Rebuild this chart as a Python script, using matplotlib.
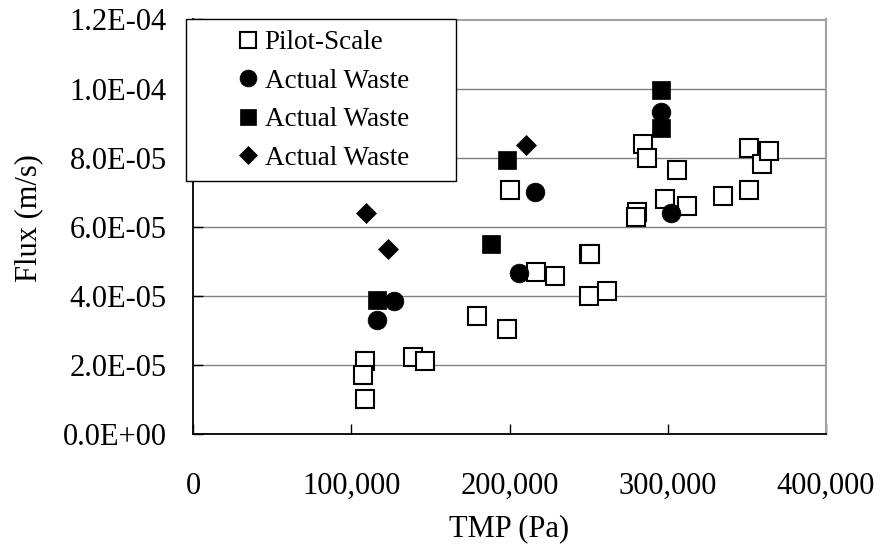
import matplotlib
matplotlib.use("Agg")
import matplotlib.pyplot as plt
from matplotlib.patches import Rectangle

# data (TMP in Pa, flux in m/s)
pilot_tmp = [108400, 107600, 108400, 138800, 146800, 179300, 198500, 200000, 216500,
             228700, 250000, 250800, 250200, 261800, 280800, 279700, 284600, 286700,
             298300, 312400, 306100, 335200, 351500, 351500, 359300, 364100]
pilot_flux = [2.10e-5, 1.70e-5, 1.00e-5, 2.22e-5, 2.10e-5, 3.43e-5, 3.03e-5, 7.07e-5, 4.70e-5,
              4.58e-5, 5.22e-5, 5.22e-5, 4.00e-5, 4.13e-5, 6.44e-5, 6.27e-5, 8.40e-5, 8.00e-5,
              6.80e-5, 6.61e-5, 7.65e-5, 6.89e-5, 7.07e-5, 8.27e-5, 7.81e-5, 8.18e-5]

waste1_tmp = [116500, 126800, 205900, 216000, 295600, 301900]
waste1_flux = [3.31e-5, 3.84e-5, 4.66e-5, 7.02e-5, 9.33e-5, 6.39e-5]

waste2_tmp = [116300, 188400, 198500, 295800, 295800]
waste2_flux = [3.89e-5, 5.51e-5, 7.94e-5, 9.96e-5, 8.87e-5]

waste3_tmp = [109300, 123200, 210600]
waste3_flux = [6.41e-5, 5.36e-5, 8.37e-5]

x_ticks = [0, 100000, 200000, 300000, 400000]
x_tick_labels = ["0", "100,000", "200,000", "300,000", "400,000"]
y_ticks = [0, 2e-5, 4e-5, 6e-5, 8e-5, 1e-4, 1.2e-4]
y_tick_labels = ["0.0E+00", "2.0E-05", "4.0E-05", "6.0E-05", "8.0E-05", "1.0E-04", "1.2E-04"]

plt.rcParams['font.family'] = ['Liberation Serif', 'DejaVu Serif']

W, H = 882, 545
fig = plt.figure(figsize=(W / 100, H / 100), dpi=100)
ax = fig.add_axes([193 / W, 1 - 434 / H, 633 / W, 414.5 / H])

ax.plot(pilot_tmp, pilot_flux, ls='none', marker='s', ms=12.5, mfc='white', mec='black',
        mew=1.5, label='Pilot-Scale', zorder=3)
ax.plot(waste1_tmp, waste1_flux, ls='none', marker='o', ms=13.5, mfc='black', mec='black',
        mew=0.5, label='Actual Waste', zorder=3)
ax.plot(waste2_tmp, waste2_flux, ls='none', marker='s', ms=13.5, mfc='black', mec='black',
        mew=0.5, label='Actual Waste', zorder=3)
ax.plot(waste3_tmp, waste3_flux, ls='none', marker='D', ms=10.5, mfc='black', mec='black',
        mew=0.5, label='Actual Waste', zorder=3)

ax.set_xlim(0, 400000)
ax.set_ylim(0, 1.2e-4)
ax.set_xticks(x_ticks)
ax.set_xticklabels(x_tick_labels)
ax.set_yticks(y_ticks)
ax.set_yticklabels(y_tick_labels)
ax.tick_params(axis='both', direction='in', length=7, width=1, labelsize=22, colors='black')
ax.tick_params(axis='y', pad=19)
ax.tick_params(axis='x', pad=27)

ax.yaxis.grid(True, color='#808080', lw=1)
ax.set_axisbelow(True)
for s in ['left', 'bottom']:
    ax.spines[s].set_color('black')
    ax.spines[s].set_linewidth(1.3)
for s in ['top', 'right']:
    ax.spines[s].set_color('#a0a0a0')
    ax.spines[s].set_linewidth(1.5)

ax.set_xlabel('TMP (Pa)', fontsize=22)
ax.xaxis.set_label_coords(0.5, -(514 - 434) / 414.5)
ax.set_ylabel('Flux (m/s)', fontsize=22)
ax.yaxis.set_label_coords((43 - 193) / 633, 0.52)

# legend box
box = Rectangle((186 / W, 1 - 181 / H), 270 / W, (181 - 19.3) / H, transform=fig.transFigure,
                facecolor='white', edgecolor='black', lw=1, zorder=4, clip_on=False)
ax.add_patch(box)
leg = ax.legend(loc='center left', bbox_to_anchor=(237.5 / W, 1 - 100.5 / H),
                bbox_transform=fig.transFigure, frameon=False, fontsize=19.5,
                borderpad=0, borderaxespad=0, handlelength=0.8, handletextpad=0.2,
                labelspacing=0.5, markerscale=0.9)
leg.set_zorder(5)

fig.savefig('out.png', dpi=100)
